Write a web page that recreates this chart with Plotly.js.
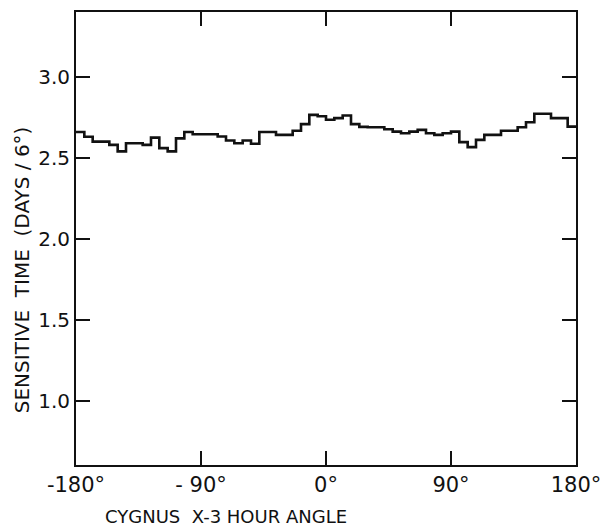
<!DOCTYPE html>
<html>
<head>
<meta charset="utf-8">
<script src="https://cdn.plot.ly/plotly-3.0.1.min.js"></script>
<style>html,body{margin:0;padding:0;background:#fff;}#chart{width:602px;height:527px;}</style>
</head>
<body>
<div id="chart"></div>
<script>
// Sensitive time per 6-degree bin of hour angle, starting at -180 deg
const binStart = -180;
const binWidth = 6;
const sensitiveTime = [
  2.66, 2.63, 2.60, 2.60, 2.58, 2.54, 2.59, 2.59, 2.58, 2.625,
  2.56, 2.54, 2.62, 2.66, 2.646, 2.646, 2.646, 2.632, 2.607, 2.59,
  2.607, 2.587, 2.66, 2.66, 2.642, 2.642, 2.667, 2.708, 2.765, 2.757,
  2.735, 2.745, 2.761, 2.708, 2.691, 2.689, 2.689, 2.677, 2.662, 2.652,
  2.662, 2.673, 2.652, 2.642, 2.652, 2.662, 2.597, 2.566, 2.611, 2.642,
  2.642, 2.667, 2.667, 2.689, 2.72, 2.772, 2.772, 2.745, 2.745, 2.693
];
const xTickVals = [-180, -90, 0, 90, 180];
const xTickText = ['-180°', '- 90°', '0°', '90°', '180°'];
const yTickVals = [1.0, 1.5, 2.0, 2.5, 3.0];
const yTickText = ['1.0', '1.5', '2.0', '2.5', '3.0'];
const xTitle = 'CYGNUS  X-3 HOUR ANGLE';
const yTitle = 'SENSITIVE  TIME  (DAYS / 6°)';

const xs = sensitiveTime.map((v, i) => binStart + binWidth * i);
xs.push(binStart + binWidth * sensitiveTime.length);
const ys = sensitiveTime.concat([sensitiveTime[sensitiveTime.length - 1]]);

const fam = 'DejaVu Sans, Liberation Sans, sans-serif';
const font = {family: fam, color: '#111', size: 20};

const trace = {
  x: xs, y: ys, type: 'scatter', mode: 'lines',
  line: {shape: 'hv', color: '#111', width: 2.6},
  hoverinfo: 'skip'
};

const layout = {
  width: 602, height: 527,
  margin: {l: 76, r: 26, t: 12, b: 62},
  paper_bgcolor: '#fff', plot_bgcolor: '#fff',
  showlegend: false,
  font: font,
  xaxis: {
    range: [-180, 180], tickvals: xTickVals, ticktext: xTickText,
    ticks: 'inside', ticklen: 14, tickwidth: 2, tickcolor: '#111',
    showline: true, linecolor: '#111', linewidth: 2, mirror: 'ticks',
    showgrid: false, zeroline: false, tickfont: {family: fam, color: '#111', size: 21}
  },
  yaxis: {
    range: [0.605, 3.40], tickvals: yTickVals, ticktext: yTickText,
    ticks: 'inside', ticklen: 14, tickwidth: 2, tickcolor: '#111',
    showline: true, linecolor: '#111', linewidth: 2, mirror: 'ticks',
    showgrid: false, zeroline: false, tickfont: font
  },
  annotations: [
    {text: xTitle, xref: 'paper', yref: 'paper', x: 0.054, y: -0.113,
     xanchor: 'left', yanchor: 'middle', showarrow: false,
     font: {family: fam, color: '#111', size: 18}},
    {text: yTitle, xref: 'paper', yref: 'paper', x: -0.108, y: 0.43,
     xanchor: 'center', yanchor: 'middle', textangle: -90, showarrow: false,
     font: {family: fam, color: '#111', size: 20}}
  ]
};

Plotly.newPlot('chart', [trace], layout, {staticPlot: true, displayModeBar: false});
</script>
</body>
</html>
